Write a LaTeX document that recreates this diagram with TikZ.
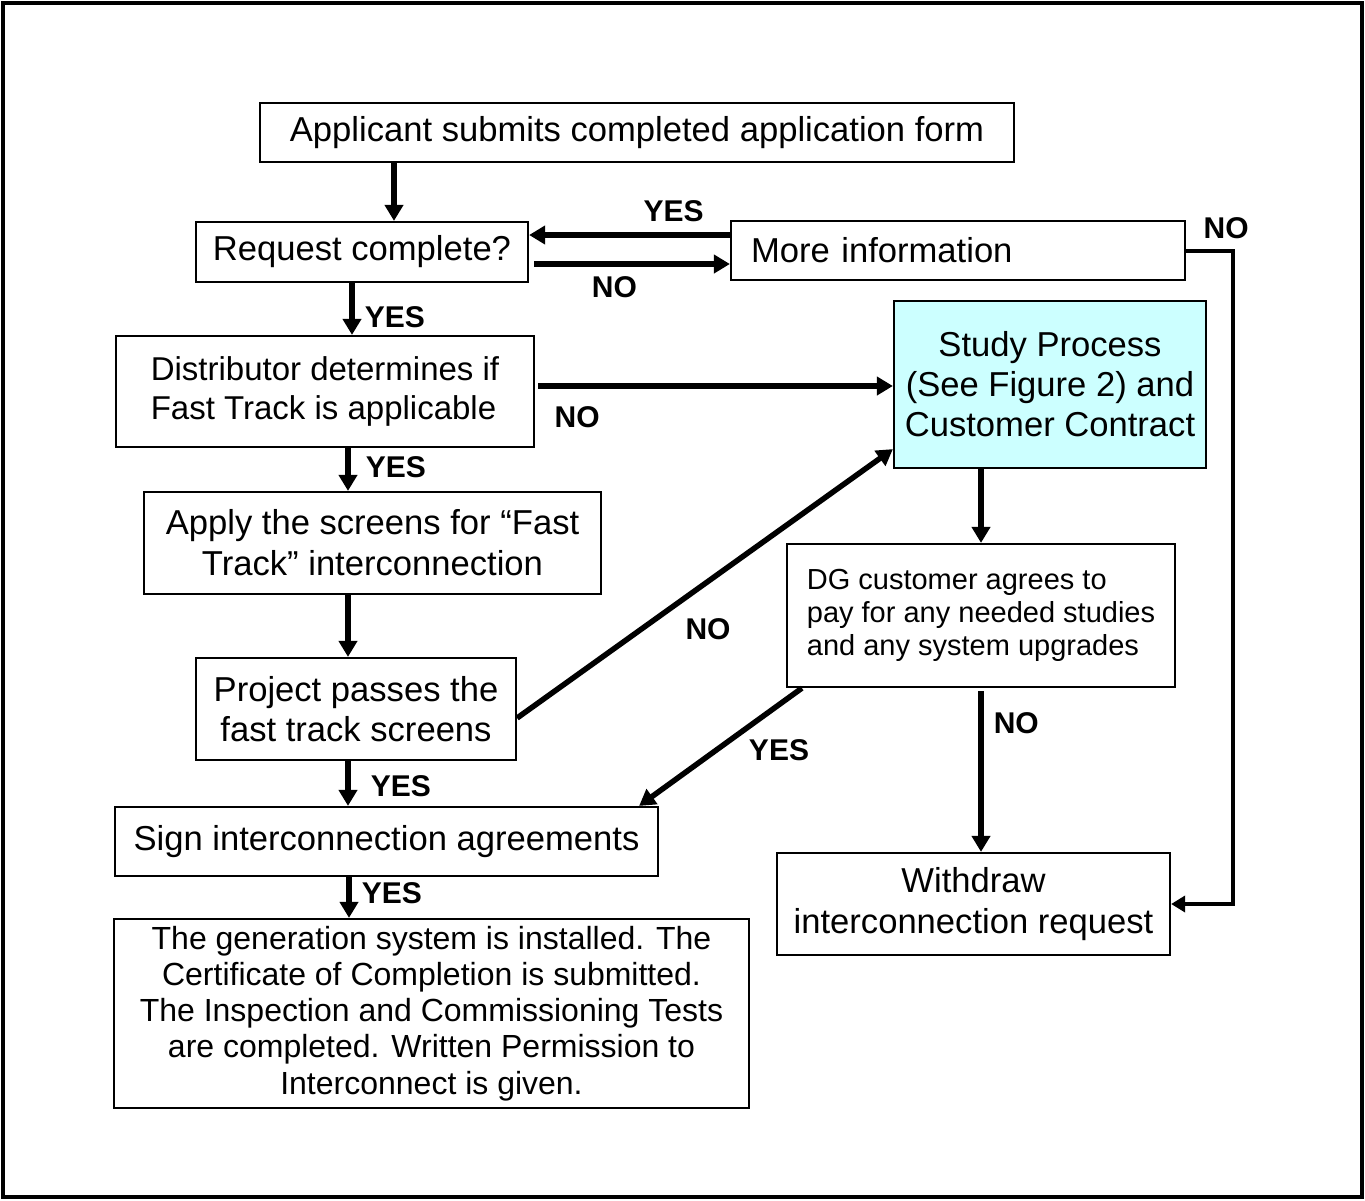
\documentclass[tikz,border=0pt]{standalone}
\usepackage{fontspec}
\setmainfont{Liberation Sans}
\usetikzlibrary{positioning,calc,arrows.meta}
\definecolor{studycyan}{RGB}{204,255,255}
\tikzset{fbox/.style={draw, line width=2.2pt, align=center, font=\fontsize{34.6}{40}\selectfont}}
\tikzset{fboxl/.style={fbox, align=left}}
\tikzset{arr/.style={draw, line width=5.5pt, -{Triangle[length=16pt,width=18pt]}}}
\tikzset{arr2/.style={draw, line width=4pt, -{Triangle[length=14pt,width=16pt]}}}
\tikzset{lbl/.style={font=\fontsize{30}{30}\selectfont\bfseries, inner sep=10pt}}

\begin{document}
\begin{tikzpicture}[x=1pt,y=-1pt]
	\useasboundingbox (0,0) rectangle (1365,1200);
	\draw[line width=3.5pt] (3,3) rectangle (1362,1197);
	% boxes
	\node[fbox, minimum width=754pt, minimum height=59pt] (appl) at (637,132.5)
		{Applicant submits completed application form};
	\node[fbox, minimum width=332pt, minimum height=60pt] (req) at (362,252)
		{Request complete?};
	\node[fboxl, inner xsep=20pt, text width=414pt, minimum height=59pt] (more) at (958,250.5)
		{More information};
	\node[fboxl, font=\fontsize{33}{39}\selectfont, minimum width=418pt,
		minimum height=111pt] (dist) at (325,391.5)
		{Distributor determines if\\Fast Track is applicable};
	\node[fbox, fill=studycyan, minimum width=312pt, minimum height=167pt] (study) at (1050,384.5)
		{Study Process\\(See Figure 2) and\\Customer Contract};
	\node[fbox, font=\fontsize{34.6}{41}\selectfont, minimum width=457pt, minimum height=102pt] (apply) at (372.5,543)
		{Apply the screens for “Fast\\Track” interconnection};
	\node[fboxl, font=\fontsize{29}{33}\selectfont, minimum width=388pt,
		minimum height=143pt] (dg) at (981,615.5)
		{DG customer agrees to\\pay for any needed studies\\and any system upgrades};
	\node[fbox, minimum width=320pt, minimum height=102pt] (proj) at (356,709)
		{Project passes the\\fast track screens};
	\node[fbox, minimum width=543pt, minimum height=69pt] (sign) at (386.5,841.5)
		{Sign interconnection agreements};
	\node[fbox, font=\fontsize{32}{36.2}\selectfont, minimum width=635pt, minimum height=189pt] (gen) at (431.5,1013.5)
		{The generation system is installed. The\\Certificate of Completion is submitted.\\The Inspection and Commissioning Tests\\are completed. Written Permission to\\Interconnect is given.};
	\node[fbox, font=\fontsize{34.6}{41}\selectfont, minimum width=393pt, minimum height=102pt] (wd) at (973.5,904)
		{Withdraw\\interconnection request};
	% connectors
	\draw[arr] ([xshift=32pt]req.north |- appl.south) -- ([xshift=32pt]req.north);
	\draw[arr] ([yshift=15.5pt]more.west) --
		node[lbl, above, pos=0.28]{YES}
		([yshift=15.5pt]more.west -| req.east);
	\draw[arr] ([yshift=-12pt,xshift=5pt]req.east) --
		node[lbl, below, pos=0.41]{NO}
		([yshift=-12pt]req.east -| more.west);
	\draw[arr2] (more.east) -|
		node[lbl, above, pos=0.5, xshift=-7pt]{NO}
		([xshift=62pt]wd.east) -- (wd.east);
	\draw[arr] ([xshift=-10pt]req.south) --
		node[lbl, right, pos=0.65]{YES}
		([xshift=-10pt]req.south |- dist.north);
	\draw[arr] ([yshift=5.5pt,xshift=3pt]dist.east) --
		node[lbl, below, pos=0.11, yshift=-8pt]{NO}
		([yshift=5.5pt]dist.east -| study.west);
	\draw[arr] ([xshift=23pt]dist.south) --
		node[lbl, right, pos=0.44, xshift=5pt]{YES}
		([xshift=23pt]dist.south |- apply.north);
	\draw[arr] ([xshift=-24.5pt]apply.south) -- ([xshift=-24.5pt]apply.south |- proj.north);
	\draw[arr] ([yshift=-9pt]proj.east) -- ([yshift=20pt]study.south west);
	\node[lbl] (noproj) at (708,629) {NO};
	\draw[arr] ([xshift=-69pt]study.south) -- ([xshift=-69pt]study.south |- dg.north);
	\draw[arr] ([xshift=16pt]dg.south west) -- ([xshift=-20pt]sign.north east);
	\node[lbl] (yesdg) at (779,750) {YES};
	\draw[arr] ([yshift=-3pt]dg.south) --
		node[lbl, right, pos=0.2]{NO}
		(dg.south |- wd.north);
	\draw[arr] ([xshift=-8pt]proj.south) --
		node[lbl, right, pos=0.57, xshift=10pt]{YES}
		([xshift=-8pt]proj.south |- sign.north);
	\draw[arr] ([xshift=-37.5pt]sign.south) --
		node[lbl, right, pos=0.4]{YES}
		([xshift=-37.5pt]sign.south |- gen.north);
\end{tikzpicture}
\end{document}
